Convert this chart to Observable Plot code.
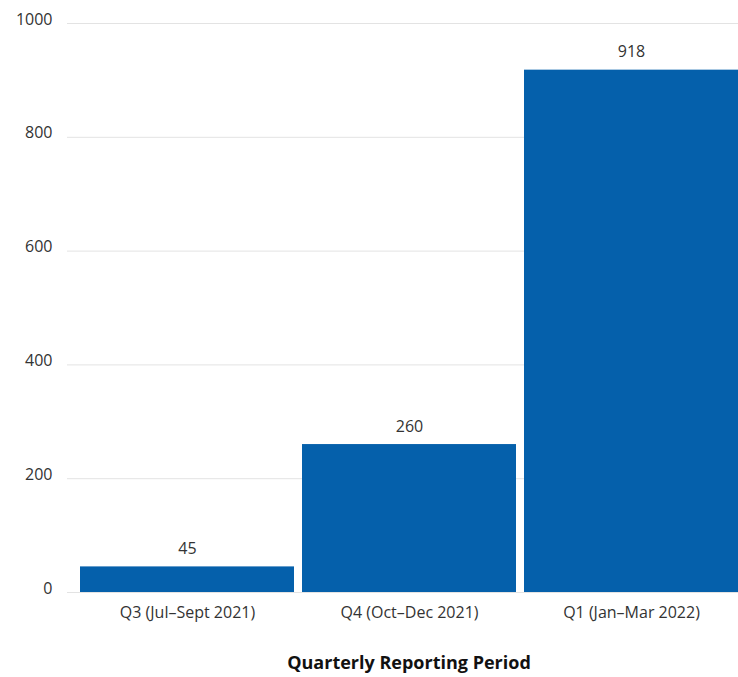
<!DOCTYPE html>
<html>
<head>
<meta charset="utf-8">
<script src="https://cdn.jsdelivr.net/npm/d3@7"></script>
<script src="https://cdn.jsdelivr.net/npm/@observablehq/plot@0.6"></script>
<style>
  html, body { margin: 0; padding: 0; background: #fff; }
  #chart svg { display: block; }
</style>
</head>
<body>
<div id="chart"></div>
<script>
const categories = ["Q3 (Jul\u2013Sept 2021)", "Q4 (Oct\u2013Dec 2021)", "Q1 (Jan\u2013Mar 2022)"];
const values = [45, 260, 918];
const yTicks = [0, 200, 400, 600, 800, 1000];
const xTitle = "Quarterly Reporting Period";

const data = categories.map((c, i) => ({category: c, value: values[i]}));

const chart = Plot.plot({
  width: 738,
  height: 677,
  marginLeft: 67,
  marginRight: 0,
  marginTop: 23,
  marginBottom: 85,
  style: {fontFamily: "'Open Sans', sans-serif", fontSize: "16px", color: "#333", background: "#fff"},
  x: {domain: categories, paddingInner: 0.034, paddingOuter: 0.025, align: 1, label: null},
  y: {domain: [0, 1000], ticks: yTicks, label: null},
  marks: [
    Plot.gridY(yTicks, {stroke: "#e3e3e3", strokeOpacity: 1, strokeWidth: 1}),
    Plot.barY(data, {x: "category", y: "value", fill: "#0560ab"}),
    Plot.text(data, {x: "category", y: "value", text: d => String(d.value), dy: -18, fill: "#333", fontSize: 16}),
    Plot.axisY(yTicks, {tickSize: 0, tickPadding: 15, dy: -4, fill: "#333", fontSize: 16, label: null, tickFormat: d => String(d)}),
    Plot.axisX({tickSize: 0, tickPadding: 14, fill: "#333", fontSize: 16, label: null}),
    Plot.text([xTitle], {frameAnchor: "bottom", dy: 76, dx: 6, fontWeight: "bold", fontSize: 18, fill: "#111"})
  ]
});
document.getElementById("chart").appendChild(chart);
</script>
</body>
</html>
